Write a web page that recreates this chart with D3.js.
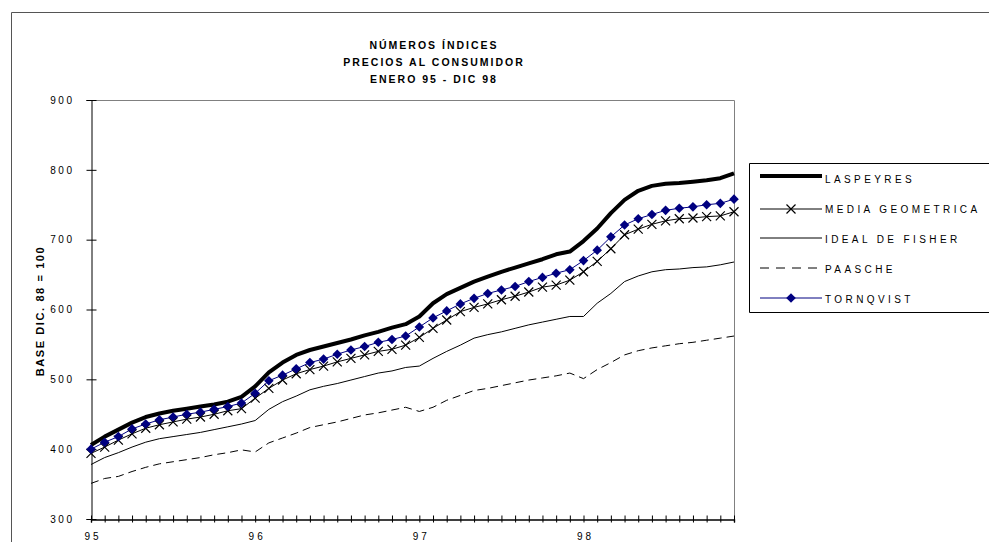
<!DOCTYPE html>
<html>
<head>
<meta charset="utf-8">
<script src="https://cdn.jsdelivr.net/npm/d3@7"></script>
<style>
  body { margin: 0; background: #fff; }
  svg { display: block; font-family: "Liberation Sans", Arial, sans-serif; }
</style>
</head>
<body>
<svg id="chart" width="989" height="542"></svg>
<script>
// Monthly consumer price index numbers, January 1995 – December 1998 (base Dec. 88 = 100)
const years = ["95", "96", "97", "98"];
const laspeyres = [406, 418, 428, 438, 446, 451, 455, 458, 461, 464, 468, 475,
                   490, 510, 524, 535, 542, 547, 552, 557, 563, 568, 574, 579,
                   590, 609, 622, 631, 640, 647, 654, 660, 666, 672, 679, 683,
                   698, 716, 738, 757, 770, 777, 780, 781, 783, 785, 788, 795];
const mediaGeometrica = [394, 403, 413, 422, 430, 435, 439, 443, 446, 450, 455, 458,
                         473, 487, 499, 508, 514, 519, 525, 530, 535, 540, 543, 549,
                         560, 573, 585, 597, 603, 608, 614, 619, 625, 632, 635, 642,
                         654, 669, 687, 707, 715, 722, 727, 730, 731, 733, 734, 740];
const fisher = [378, 388, 395, 403, 410, 415, 418, 421, 424, 428, 432, 436,
                441, 457, 468, 476, 485, 490, 494, 499, 504, 509, 512, 517,
                519, 530, 540, 549, 559, 564, 568, 573, 578, 582, 586, 590,
                590, 609, 623, 640, 648, 654, 657, 658, 660, 661, 664, 668];
const paasche = [351, 358, 361, 368, 374, 379, 382, 385, 388, 392, 395, 399,
                 396, 409, 416, 423, 431, 435, 439, 444, 449, 452, 456, 460,
                 454, 460, 470, 477, 484, 487, 491, 495, 499, 502, 505, 509,
                 501, 514, 524, 535, 541, 545, 548, 551, 553, 556, 559, 562];
const tornqvist = [400, 410, 418, 429, 436, 442, 446, 450, 453, 457, 461, 466,
                   480, 498, 506, 515, 524, 529, 536, 542, 547, 553, 557, 562,
                   575, 588, 598, 608, 616, 623, 628, 633, 640, 646, 652, 657,
                   670, 685, 704, 721, 730, 736, 742, 745, 747, 750, 752, 758];
const seriesNames = ["LASPEYRES", "MEDIA GEOMETRICA", "IDEAL DE FISHER", "PAASCHE", "TORNQVIST"];
const yTicks = [300, 400, 500, 600, 700, 800, 900];
const titleLines = ["NÚMEROS ÍNDICES", "PRECIOS AL CONSUMIDOR", "ENERO 95 - DIC 98"];
const yTitle = "BASE DIC. 88 = 100";

const months = d3.range(laspeyres.length);
const svg = d3.select("#chart");

const x = d3.scaleLinear().domain([0, months.length - 1]).range([91, 734]);
const y = d3.scaleLinear().domain([300, 900]).range([519, 100]);

// outer chart frame
svg.append("path")
  .attr("d", "M11.5,542 V12.5 H989")
  .attr("fill", "none").attr("stroke", "#555").attr("stroke-width", 1);

// plot frame (top and right edges)
svg.append("path")
  .attr("d", `M${x.range()[0]},${y(900) + 0.5} H${x.range()[1] + 0.5} V${y(300)}`)
  .attr("fill", "none").attr("stroke", "#808080").attr("stroke-width", 1);

// title
svg.append("g")
  .selectAll("text").data(titleLines).join("text")
  .attr("x", 434).attr("y", (d, i) => 49 + i * 17)
  .attr("text-anchor", "middle")
  .attr("font-size", 10.5).attr("font-weight", "bold")
  .attr("letter-spacing", 2)
  .text(d => d);

// y axis with ticks crossing the axis line
const yAxis = svg.append("g")
  .attr("transform", `translate(${x(0) + 0.5},0)`)
  .call(d3.axisLeft(y).tickValues(yTicks).tickSize(5).tickPadding(12));
yAxis.select(".domain").attr("stroke", "#000");
yAxis.selectAll(".tick line").attr("x1", 5).attr("stroke", "#000");
yAxis.selectAll(".tick text")
  .attr("font-size", 10).attr("font-family", "Liberation Sans, Arial, sans-serif")
  .attr("letter-spacing", 2.5).attr("fill", "#000");

// x axis: one tick per month, year labels at each January
const xAxis = svg.append("g")
  .attr("transform", `translate(0,${y(300) + 0.5})`)
  .call(d3.axisBottom(x).tickValues(months).tickSize(3)
    .tickFormat(d => d % 12 === 0 ? years[d / 12] : "").tickPadding(10));
xAxis.select(".domain").attr("stroke", "#000").attr("stroke-width", 1.4);
xAxis.selectAll(".tick line").attr("y1", -4).attr("stroke", "#000");
xAxis.selectAll(".tick text")
  .attr("font-size", 10).attr("font-family", "Liberation Sans, Arial, sans-serif")
  .attr("letter-spacing", 3).attr("dx", 1.5).attr("fill", "#000");

// y axis title
svg.append("text")
  .attr("transform", "translate(44,311) rotate(-90)")
  .attr("text-anchor", "middle")
  .attr("font-size", 11).attr("font-weight", "bold")
  .attr("letter-spacing", 1.6)
  .text(yTitle);

const line = d3.line().x((d, i) => x(i)).y(d => y(d));
const plot = svg.append("g");

// Paasche (dashed)
plot.append("path").datum(paasche)
  .attr("d", line).attr("fill", "none")
  .attr("stroke", "#000").attr("stroke-width", 1).attr("stroke-dasharray", "8,5");

// Ideal de Fisher (thin solid)
plot.append("path").datum(fisher)
  .attr("d", line).attr("fill", "none")
  .attr("stroke", "#000").attr("stroke-width", 1);

// Media geométrica (line with X markers)
plot.append("path").datum(mediaGeometrica)
  .attr("d", line).attr("fill", "none")
  .attr("stroke", "#000").attr("stroke-width", 1);
const xMark = s => `M${-s},${-s}L${s},${s}M${-s},${s}L${s},${-s}`;
plot.append("g").selectAll("path").data(mediaGeometrica).join("path")
  .attr("transform", (d, i) => `translate(${x(i)},${y(d)})`)
  .attr("d", xMark(4.5)).attr("stroke", "#000").attr("stroke-width", 1.2).attr("fill", "none");

// Laspeyres (thick)
plot.append("path").datum(laspeyres)
  .attr("d", line).attr("fill", "none")
  .attr("stroke", "#000").attr("stroke-width", 4).attr("stroke-linejoin", "round");

// Törnqvist (navy with diamonds)
plot.append("path").datum(tornqvist)
  .attr("d", line).attr("fill", "none")
  .attr("stroke", "#000080").attr("stroke-width", 1);
const diamond = s => `M0,${-s}L${s},0L0,${s}L${-s},0Z`;
plot.append("g").selectAll("path").data(tornqvist).join("path")
  .attr("transform", (d, i) => `translate(${x(i)},${y(d)})`)
  .attr("d", diamond(4.8)).attr("fill", "#000080");

// legend
const legend = svg.append("g");
legend.append("path")
  .attr("d", "M989,163.5 H749.5 V312.5 H989")
  .attr("fill", "none").attr("stroke", "#000").attr("stroke-width", 1);
const rowY = i => 179 + i * 30;
const lx1 = 760, lx2 = 822;
const items = legend.selectAll("g.item").data(seriesNames).join("g")
  .attr("transform", (d, i) => `translate(0,${rowY(i)})`);
items.append("text")
  .attr("x", 825).attr("y", 0).attr("dy", "0.35em")
  .attr("font-size", 10).attr("letter-spacing", 3.4)
  .text(d => d);
// legend symbols
legend.append("line").attr("x1", lx1).attr("x2", lx2).attr("y1", rowY(0) - 3).attr("y2", rowY(0) - 3)
  .attr("stroke", "#000").attr("stroke-width", 4);
legend.append("line").attr("x1", lx1).attr("x2", lx2).attr("y1", rowY(1)).attr("y2", rowY(1))
  .attr("stroke", "#000").attr("stroke-width", 1);
legend.append("path").attr("transform", `translate(${(lx1 + lx2) / 2},${rowY(1)})`)
  .attr("d", xMark(4.5)).attr("stroke", "#000").attr("stroke-width", 1.2);
legend.append("line").attr("x1", lx1).attr("x2", lx2).attr("y1", rowY(2) - 1).attr("y2", rowY(2) - 1)
  .attr("stroke", "#000").attr("stroke-width", 1);
legend.append("line").attr("x1", lx1).attr("x2", lx2).attr("y1", rowY(3) - 1).attr("y2", rowY(3) - 1)
  .attr("stroke", "#000").attr("stroke-width", 1).attr("stroke-dasharray", "9,7");
legend.append("line").attr("x1", lx1).attr("x2", lx2).attr("y1", rowY(4) - 1).attr("y2", rowY(4) - 1)
  .attr("stroke", "#000080").attr("stroke-width", 1);
legend.append("path").attr("transform", `translate(${(lx1 + lx2) / 2},${rowY(4) - 1})`)
  .attr("d", diamond(4.8)).attr("fill", "#000080");
</script>
</body>
</html>
